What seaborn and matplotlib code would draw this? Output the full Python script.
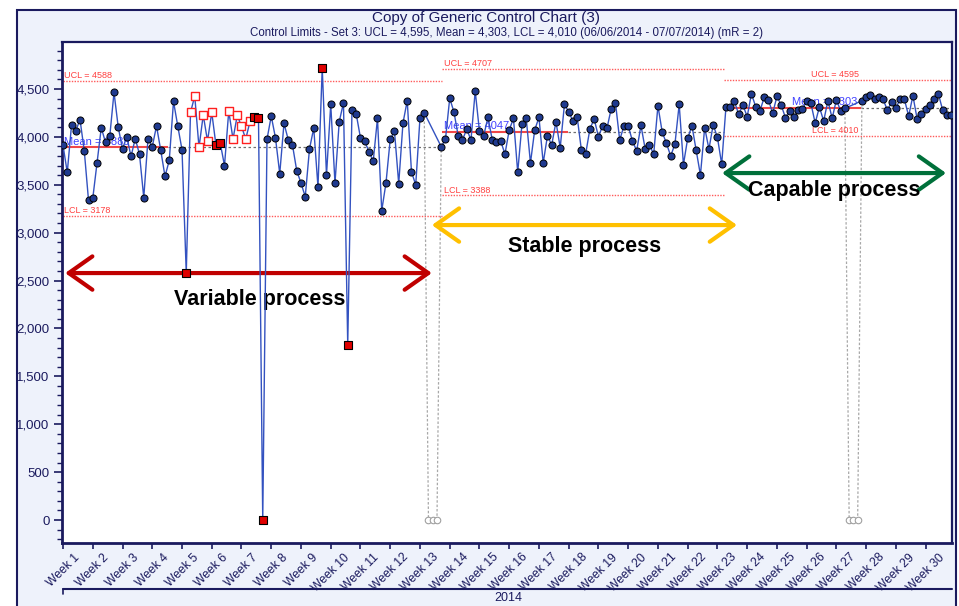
import numpy as np
import pandas as pd
import matplotlib
matplotlib.use('Agg')
import matplotlib.pyplot as plt
from matplotlib.patches import Rectangle
from matplotlib.ticker import MultipleLocator, FuncFormatter
from matplotlib.transforms import ScaledTranslation
import seaborn as sns

# daily values, week 1 .. week 30 (None = missing day)
values = [
    3910, 3629, 4123, 4064, 4179, 3855, 3337, 3358, 3727, 4095,
    3942, 4005, 4464, 4099, 3873, 4001, 3796, 3981, 3817, 3365,
    3981, 3897, 4113, 3859, 3587, 3754, 4370, 4113, 3866, 2580,
    4255, 4426, 3890, 4228, 3956, 4255, 3911, 3935, 3699, 4269,
    3977, 4224, 4109, 3977, 4161, 4203, 4196, 0, 3974, 4217,
    3988, 3615, 4141, 3970, 3914, 3646, 3518, 3375, 3873, 4092,
    3476, 4718, 3598, 4339, 3518, 4158, 4356, 1830, 4280, 4238,
    3988, 3953, 3845, 3747, 4193, 3229, 3518, 3974, 4057, 3511,
    4144, 4377, 3636, 3497, 4196, 4252, None, None, None, 3897,
    3974, 4402, 4259, 4008, 3967, 4081, 3967, 4478, 4057, 4012,
    4203, 3970, 3949, 3956, 3820, 4071, 4193, 3629, 4130, 4193,
    3727, 4071, 4203, 3727, 4012, 3914, 4158, 3887, 4339, 4262,
    4165, 4203, 3859, 3824, 4085, 4186, 4001, 4116, 4088, 4294,
    4356, 3967, 4113, 4116, 3956, 3855, 4120, 3873, 3914, 3820,
    4325, 4050, 3932, 3800, 3925, 4339, 3710, 3984, 4116, 3860,
    3601, 4097, 3872, 4126, 3994, 3714, 4308, 4308, 4370, 4235,
    4332, 4210, 4450, 4315, 4269, 4412, 4388, 4245, 4422, 4332,
    4200, 4269, 4210, 4280, 4290, 4374, 4349, 4144, 4311, 4165,
    4377, 4193, 4388, 4269, 4297, None, None, None, 4377, 4419,
    4436, 4391, 4416, 4391, 4276, 4367, 4297, 4398, 4391, 4217,
    4429, 4186, 4241, 4290, 4332, 4391, 4447, 4280, 4228, 4228,
]
red_points = [29, 36, 37, 45, 46, 47, 61, 67]
open_points = [30, 31, 32, 33, 34, 35, 39, 40, 41, 42, 43, 44]

weeks = [f'Week {i}' for i in range(1, 31)]

# control limit sets
seg_start = [0, 89.3, 155.5]
seg_end = [89.3, 155.5, 209.3]
calc_end = [24.8, 118.8, 187.7]
ucl = [4588, 4707, 4595]
mean = [3889, 4047, 4303]
lcl = [3178, 3388, 4010]

navy = '#1A1A5E'

df = pd.DataFrame({'day': np.arange(len(values)), 'value': pd.to_numeric(pd.Series(values), errors='coerce')})
df['kind'] = 'normal'
df.loc[red_points, 'kind'] = 'red'
df.loc[open_points, 'kind'] = 'open'
valid = df.dropna()

sns.set_style('white')
plt.rcParams['font.family'] = ['Liberation Sans', 'DejaVu Sans']

fig = plt.figure(figsize=(9.59, 6.06), dpi=100)
fig.add_artist(Rectangle((17 / 959, -0.02), 939 / 959, 1.0035, transform=fig.transFigure,
                         fc='#EEF2FB', ec=navy, lw=1.5, zorder=-1))
ax = fig.add_axes([62 / 959, 1 - 543 / 606, 890 / 959, 501 / 606])
ax.set_facecolor('white')

# limit lines
for i in range(3):
    ax.hlines(ucl[i], seg_start[i], seg_end[i], colors='#FF5A5A', linestyles=(0, (1, 1)), lw=1, zorder=1)
    ax.hlines(lcl[i], seg_start[i], seg_end[i], colors='#FF5A5A', linestyles=(0, (1, 1)), lw=1, zorder=1)
    ax.hlines(mean[i], seg_start[i], calc_end[i], colors='#F04848', lw=1.5, zorder=1)
    ax.hlines(mean[i], calc_end[i], seg_end[i], colors='#707070', linestyles=(0, (2, 2)), lw=0.9, zorder=1)

lab = dict(fontsize=6.5, color='#FF4040', va='bottom')
mlab = dict(fontsize=8, color='#4040FF', va='bottom')
for i in range(2):
    ax.text(seg_start[i] + 0.3, ucl[i] + 10, f'UCL = {ucl[i]}', ha='left', **lab)
    ax.text(seg_start[i] + 0.3, lcl[i] + 10, f'LCL = {lcl[i]}', ha='left', **lab)
    ax.text(seg_start[i] + 0.3, mean[i] + 10, f'Mean = {mean[i]}', ha='left', **mlab)
ax.text(calc_end[2] - 0.5, ucl[2] + 10, f'UCL = {ucl[2]}', ha='right', **lab)
ax.text(calc_end[2] - 0.5, lcl[2] + 10, f'LCL = {lcl[2]}', ha='right', **lab)
ax.text(calc_end[2] - 0.8, mean[2] + 10, f'Mean = {mean[2]}', ha='right', **mlab)

# missing days drawn to zero in grey
gap = df['value'].isna().to_numpy()
runs = []
i = 0
while i < len(gap):
    if gap[i]:
        j = i
        while j < len(gap) and gap[j]:
            j += 1
        runs.append((i, j))
        i = j
    else:
        i += 1
for a, b in runs:
    seq = df.iloc[a - 1:b + 1].fillna(0)
    ax.plot(seq['day'], seq['value'], color='#A8A8A8', ls=(0, (2, 1.5)), lw=0.9, zorder=2)
gaps = df[gap].fillna(0)
sns.scatterplot(data=gaps, x='day', y='value', marker='o', s=22, color='white',
                edgecolor='#A0A0A0', linewidth=0.8, ax=ax, zorder=5)

# annotations
arrows = [((0.5, 86.8), 2578, '#C00000'), ((86.8, 158.6), 3079, '#FFC000'), ((155.1, 207.8), 3622, '#00703A')]
for (x0, x1), yv, c in arrows:
    ax.annotate('', xy=(x1, yv), xytext=(x0, yv),
                arrowprops=dict(arrowstyle='<->,head_length=1.7,head_width=1.2', color=c, lw=3,
                                shrinkA=0, shrinkB=0, mutation_scale=10), zorder=2)
txt = dict(fontsize=15.5, fontweight='bold', color='black', ha='center', va='center', zorder=3)
ax.text(46.3, 2300, 'Variable process', **txt)
ax.text(122.8, 2860, 'Stable process', **txt)
ax.text(181.4, 3435, 'Capable process', **txt)

# data
sns.lineplot(data=valid, x='day', y='value', estimator=None, color='#3352C0', lw=1, ax=ax, zorder=3)
sns.scatterplot(data=valid[valid['kind'] == 'normal'], x='day', y='value', marker='o', s=26,
                color='#1F3A8F', edgecolor='black', linewidth=0.7, ax=ax, zorder=4)
sns.scatterplot(data=valid[valid['kind'] == 'open'], x='day', y='value', marker='s', s=30,
                color='white', edgecolor='#FF2020', linewidth=1, ax=ax, zorder=4)
sns.scatterplot(data=valid[valid['kind'] == 'red'], x='day', y='value', marker='s', s=30,
                color='#E00000', edgecolor='black', linewidth=0.8, ax=ax, zorder=4)

ax.set_xlim(-0.24, 209.2)
ax.set_ylim(-240, 4990)
ax.set_xlabel('')
ax.set_ylabel('')
ax.set_xticks(np.arange(0, 7 * len(weeks), 7))
ax.set_xticklabels(weeks, rotation=45, ha='center', va='top')
shift = ScaledTranslation(5 / 100, 2 / 100, fig.dpi_scale_trans)
for t in ax.get_xticklabels():
    t.set_transform(t.get_transform() + shift)
ax.set_yticks(np.arange(0, 5000, 500))
ax.yaxis.set_major_formatter(FuncFormatter(lambda v, p: f'{int(v):,}'))
ax.yaxis.set_minor_locator(MultipleLocator(100))
ax.tick_params(axis='y', which='major', left=True, length=6, width=1.2, colors=navy, labelsize=9.5, pad=3)
ax.tick_params(axis='y', which='minor', left=True, length=3.5, width=1, colors=navy)
ax.tick_params(axis='x', which='major', bottom=True, length=4, width=1.2, colors=navy, labelsize=8.7, pad=2)
for s in ax.spines.values():
    s.set_color(navy)
    s.set_linewidth(1.6)
ax.spines['left'].set_linewidth(2)
ax.spines['bottom'].set_linewidth(2)

# year band under the week labels
ax.plot([0.001, 1.0], [-0.092, -0.092], transform=ax.transAxes, clip_on=False, color=navy, lw=1.5)
ax.plot([0.001, 0.001], [-0.092, -0.101], transform=ax.transAxes, clip_on=False, color=navy, lw=1.2)
ax.text(0.502, -0.109, '2014', transform=ax.transAxes, ha='center', va='center', fontsize=9, color=navy)

fig.text(486 / 959, 1 - 18 / 606, 'Copy of Generic Control Chart (3)', ha='center', va='center',
         fontsize=11, color=navy)
fig.text(507 / 959, 1 - 33 / 606,
         'Control Limits - Set 3: UCL = 4,595, Mean = 4,303, LCL = 4,010 (06/06/2014 - 07/07/2014) (mR = 2)',
         ha='center', va='center', fontsize=8.3, color=navy)

fig.savefig('out.png', dpi=100)
